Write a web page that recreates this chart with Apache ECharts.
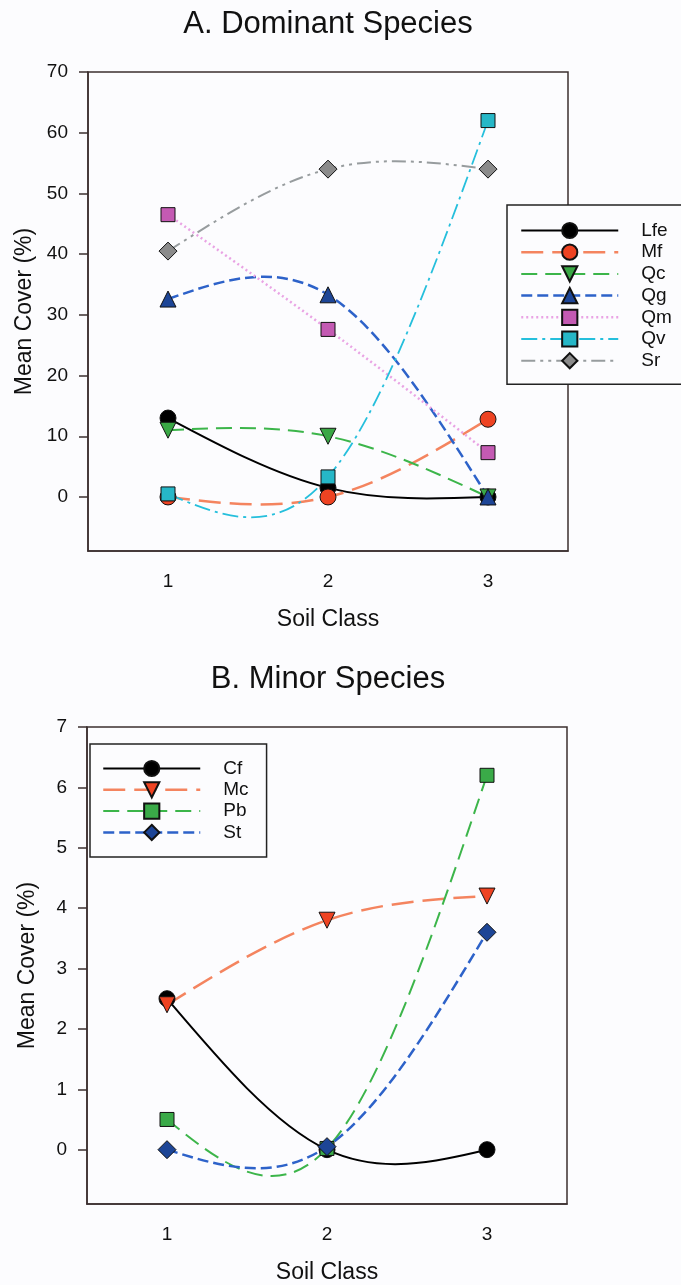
<!DOCTYPE html>
<html>
<head>
<meta charset="utf-8">
<script src="https://cdn.jsdelivr.net/npm/echarts@6/dist/echarts.min.js"></script>
<style>
  html, body { margin: 0; padding: 0; background: #fcfcfe; }
  #chart { width: 681px; height: 1285px; }
</style>
</head>
<body>
<div id="chart"></div>
<script>
// soil classes on the x axis (both panels)
var soilClasses = ['1', '2', '3'];
var yTicksA = [0, 10, 20, 30, 40, 50, 60, 70];
var yTicksB = [0, 1, 2, 3, 4, 5, 6, 7];

// A. dominant species, mean cover (%)
var lfe = [13, 1.5, 0];
var mf = [0, 0, 12.8];
var qc = [11, 10, 0];
var qg = [32.6, 33.3, 0];
var qm = [46.5, 27.6, 7.3];
var qv = [0.5, 3.3, 62];
var sr = [40.5, 54, 54];

// B. minor species, mean cover (%)
var cf = [2.5, 0, 0];
var mc = [2.4, 3.8, 4.2];
var pb = [0.5, 0.02, 6.2];
var st = [0, 0.05, 3.6];

var FONT = 'Liberation Sans, Arial, Helvetica, sans-serif';
var FRAME = '#3b2f2f';

// natural cubic spline through the points (pixel space), as bezier path
function splinePath(pts) {
  var n = pts.length, h = [], M = [];
  for (var i = 0; i < n; i++) M.push(0);
  for (var i = 0; i < n - 1; i++) h.push(pts[i + 1][0] - pts[i][0]);
  if (n > 2) {
    var cp = [], dp = [];
    for (var i = 1; i < n - 1; i++) {
      var a = h[i - 1], b = 2 * (h[i - 1] + h[i]), c = h[i];
      var d = 6 * ((pts[i + 1][1] - pts[i][1]) / h[i] - (pts[i][1] - pts[i - 1][1]) / h[i - 1]);
      if (i === 1) { cp[i] = c / b; dp[i] = d / b; }
      else {
        var m = b - a * cp[i - 1];
        cp[i] = c / m; dp[i] = (d - a * dp[i - 1]) / m;
      }
    }
    for (var i = n - 2; i >= 1; i--) {
      M[i] = dp[i] - (i < n - 2 ? cp[i] * M[i + 1] : 0);
    }
  }
  var s = 'M' + pts[0][0] + ' ' + pts[0][1];
  for (var i = 0; i < n - 1; i++) {
    var x0 = pts[i][0], y0 = pts[i][1], x1 = pts[i + 1][0], y1 = pts[i + 1][1], hh = h[i];
    var slope = (y1 - y0) / hh;
    var d0 = slope - hh * (2 * M[i] + M[i + 1]) / 6;
    var d1 = slope + hh * (M[i] + 2 * M[i + 1]) / 6;
    s += ' C' + (x0 + hh / 3) + ' ' + (y0 + d0 * hh / 3) + ' ' +
      (x1 - hh / 3) + ' ' + (y1 - d1 * hh / 3) + ' ' + x1 + ' ' + y1;
  }
  return s;
}

function curve(values, idx, stroke, dash, width) {
  return {
    type: 'custom',
    xAxisIndex: idx,
    yAxisIndex: idx,
    data: values.map(function (v, i) { return [i, v]; }),
    encode: { x: 0, y: 1 },
    z: 1,
    silent: true,
    renderItem: function (params, api) {
      if (params.dataIndex !== 0) return;
      var pts = values.map(function (v, i) { return api.coord([i, v]); });
      return {
        type: 'path',
        shape: { pathData: splinePath(pts) },
        style: { fill: 'none', stroke: stroke, lineWidth: width, lineDash: dash === 'solid' ? null : dash }
      };
    }
  };
}

function marks(name, values, idx, symbol, size, rotate, fill) {
  return {
    name: name,
    type: 'line',
    xAxisIndex: idx,
    yAxisIndex: idx,
    data: values,
    z: 3,
    symbol: symbol,
    symbolSize: size,
    symbolRotate: rotate,
    showAllSymbol: true,
    itemStyle: { color: fill, borderColor: '#111', borderWidth: 1 },
    lineStyle: { opacity: 0 },
    emphasis: { disabled: true },
    animation: false
  };
}

function xAxis(idx) {
  return {
    type: 'category',
    gridIndex: idx,
    data: soilClasses,
    boundaryGap: true,
    axisLine: { onZero: false, lineStyle: { color: FRAME, width: 1.5 } },
    axisTick: { alignWithLabel: true, length: 7, lineStyle: { color: FRAME, width: 1.5 } },
    axisLabel: { margin: 21, color: '#111', fontSize: 19, fontFamily: FONT },
    name: 'Soil Class',
    nameLocation: 'middle',
    nameGap: 57,
    nameTextStyle: { color: '#111', fontSize: 23, fontFamily: FONT },
    splitLine: { show: false }
  };
}

function yAxis(idx, min, max, ticks) {
  return {
    type: 'value',
    gridIndex: idx,
    min: min,
    max: max,
    axisLine: { show: true, lineStyle: { color: FRAME, width: 1.5 } },
    axisTick: { show: true, length: 9, customValues: ticks, lineStyle: { color: FRAME, width: 1.5 } },
    axisLabel: { margin: 20, customValues: ticks, color: '#111', fontSize: 19, fontFamily: FONT },
    splitLine: { show: false },
    name: 'Mean Cover (%)',
    nameLocation: 'middle',
    nameRotate: 90,
    nameGap: 48,
    nameTextStyle: { color: '#111', fontSize: 23, fontFamily: FONT }
  };
}

function legend(items, left, top, gap, pad) {
  return {
    data: items.map(function (it) {
      return { name: it[0], lineStyle: { color: it[1], type: it[2], width: it[3], opacity: 1 } };
    }),
    orient: 'vertical',
    left: left,
    top: top,
    itemWidth: 97,
    itemHeight: 19,
    itemGap: gap,
    padding: pad,
    selectedMode: false,
    backgroundColor: '#fcfcfe',
    borderColor: '#222',
    borderWidth: 1.5,
    textStyle: { color: '#111', fontSize: 19, fontFamily: FONT, padding: [0, 0, 0, 18] },
    z: 10
  };
}

// line styles per species: [name, stroke, dash, width]
var sLfe = ['Lfe', '#000', 'solid', 2], sMf = ['Mf', '#f4845f', [22, 9], 2.5],
  sQc = ['Qc', '#3cb54a', [16, 8], 2], sQg = ['Qg', '#2d62c9', [11, 5], 2.5],
  sQm = ['Qm', '#e9a3e4', [2, 3], 2.5], sQv = ['Qv', '#25bfdc', [16, 5, 3, 5], 1.8],
  sSr = ['Sr', '#979c9e', [14, 5, 3, 5, 3, 5], 2];
var sCf = ['Cf', '#000', 'solid', 2], sMc = ['Mc', '#f4845f', [22, 9], 2.5],
  sPb = ['Pb', '#3cb54a', [16, 8], 2], sSt = ['St', '#2d62c9', [11, 5], 2.5];

var chart = echarts.init(document.getElementById('chart'), null, { renderer: 'canvas' });
chart.setOption({
  backgroundColor: '#fcfcfe',
  animation: false,
  graphic: [
    { type: 'text', x: 328, y: 24, style: { text: 'A. Dominant Species', fontSize: 31, fontFamily: FONT, fill: '#111', align: 'center', verticalAlign: 'middle' } },
    { type: 'text', x: 328, y: 679, style: { text: 'B. Minor Species', fontSize: 31, fontFamily: FONT, fill: '#111', align: 'center', verticalAlign: 'middle' } }
  ],
  grid: [
    { left: 88, top: 72, width: 480, height: 479, show: true, borderColor: FRAME, borderWidth: 1.5, backgroundColor: 'transparent' },
    { left: 87, top: 727, width: 480, height: 481, show: true, borderColor: FRAME, borderWidth: 1.5, backgroundColor: 'transparent' }
  ],
  xAxis: [xAxis(0), xAxis(1)],
  yAxis: [yAxis(0, -8.9, 70, yTicksA), yAxis(1, -0.9, 7, yTicksB)],
  legend: [
    legend([sLfe, sMf, sQc, sQg, sQm, sQv, sSr], 507, 205, 2.7, [16, 40, 14, 13]),
    legend([sCf, sMc, sPb, sSt], 90, 744, 2.3, [15, 18, 15, 12])
  ],
  series: [
    curve(lfe, 0, sLfe[1], sLfe[2], sLfe[3]),
    curve(mf, 0, sMf[1], sMf[2], sMf[3]),
    curve(qc, 0, sQc[1], sQc[2], sQc[3]),
    curve(qg, 0, sQg[1], sQg[2], sQg[3]),
    curve(qm, 0, sQm[1], sQm[2], sQm[3]),
    curve(qv, 0, sQv[1], sQv[2], sQv[3]),
    curve(sr, 0, sSr[1], sSr[2], sSr[3]),
    curve(cf, 1, sCf[1], sCf[2], sCf[3]),
    curve(mc, 1, sMc[1], sMc[2], sMc[3]),
    curve(pb, 1, sPb[1], sPb[2], sPb[3]),
    curve(st, 1, sSt[1], sSt[2], sSt[3]),
    marks('Lfe', lfe, 0, 'circle', 16, 0, '#000'),
    marks('Mf', mf, 0, 'circle', 16, 0, '#ee4322'),
    marks('Qc', qc, 0, 'triangle', 16, 180, '#3aa845'),
    marks('Qg', qg, 0, 'triangle', 16, 0, '#1d4596'),
    marks('Qm', qm, 0, 'rect', 14, 0, '#c45ab3'),
    marks('Qv', qv, 0, 'rect', 14, 0, '#26b7c7'),
    marks('Sr', sr, 0, 'diamond', 18, 0, '#8b8b8b'),
    marks('Cf', cf, 1, 'circle', 16, 0, '#000'),
    marks('Mc', mc, 1, 'triangle', 16, 180, '#ee4322'),
    marks('Pb', pb, 1, 'rect', 14, 0, '#3aaa48'),
    marks('St', st, 1, 'diamond', 18, 0, '#1d4596')
  ]
});
</script>
</body>
</html>
